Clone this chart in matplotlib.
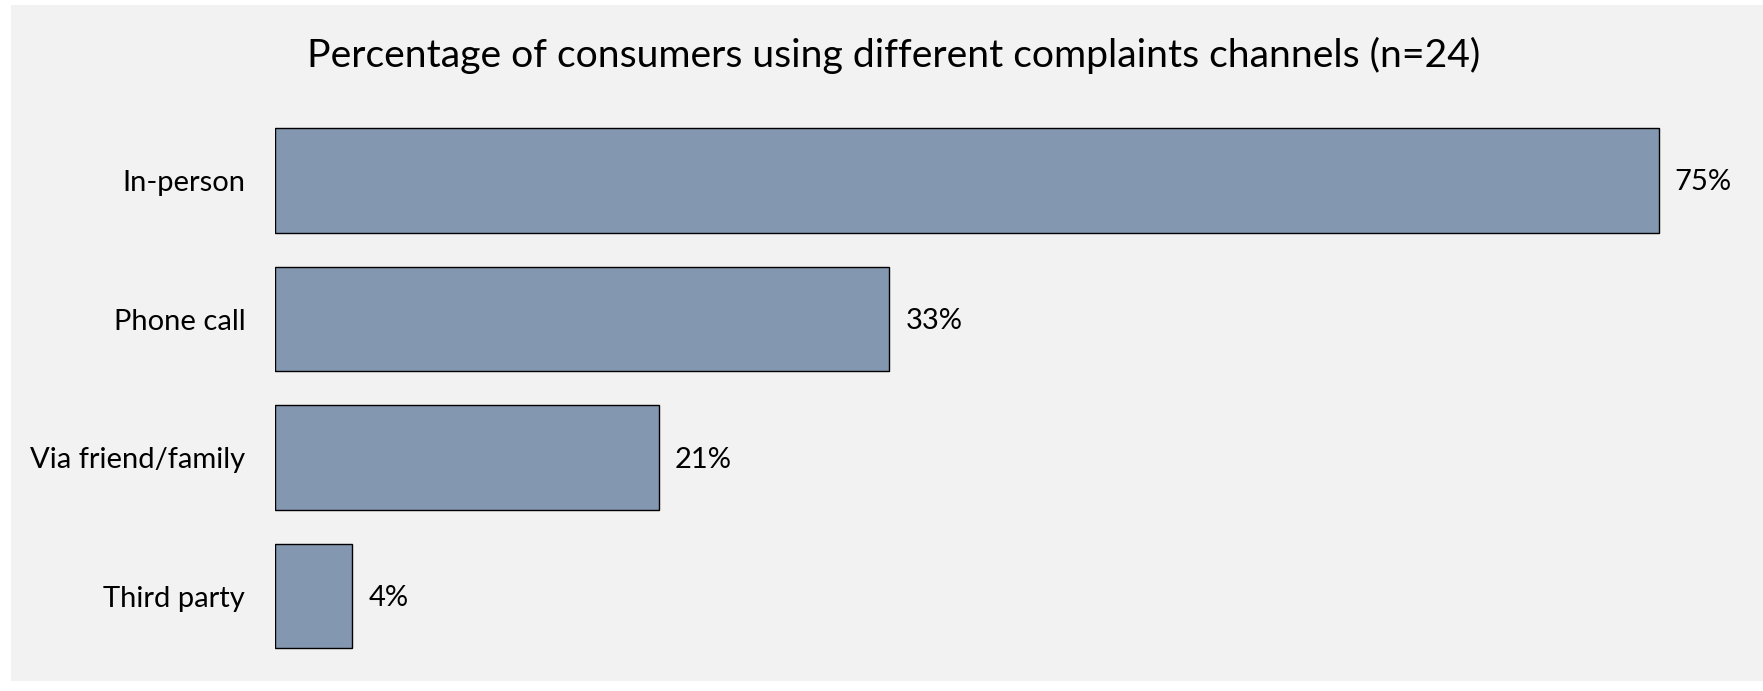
#!/usr/bin/env python3
"""Horizontal bar chart: complaint channels used by consumers (n=24)."""

import matplotlib

matplotlib.use("Agg")
import matplotlib.pyplot as plt
from matplotlib.patches import Rectangle

plt.rcParams["font.family"] = ["Lato", "DejaVu Sans"]

CHANNELS = ["In-person", "Phone call", "Via friend/family", "Third party"]
SHARES = [75.0, 33.3, 20.8, 4.2]
SHARE_LABELS = ["75%", "33%", "21%", "4%"]
TITLE = "Percentage of consumers using different complaints channels (n=24)"

BAR_COLOR = "#8497B0"
PANEL_COLOR = "#F2F2F2"

W, H = 1763, 691
fig = plt.figure(figsize=(W / 100, H / 100), dpi=100)
fig.patch.set_facecolor("white")

# grey chart area, leaving a thin white strip on the left, top and bottom
fig.add_artist(Rectangle((11 / W, 10 / H), 1 - 11 / W, 676 / H,
                         transform=fig.transFigure, facecolor=PANEL_COLOR,
                         edgecolor="none", zorder=-10))

ax = fig.add_axes([275 / W, 25.75 / H, 1476 / W, 554 / H])
ax.set_facecolor("none")

y = list(range(len(CHANNELS)))
ax.barh(y, SHARES, height=0.758, color=BAR_COLOR, edgecolor="black", linewidth=1.0)
for yi, val, lab in zip(y, SHARES, SHARE_LABELS):
    ax.annotate(lab, (val, yi), xytext=(16, -2), textcoords="offset pixels",
                va="center", ha="left", fontsize=21, color="black")

ax.set_xlim(0, 80)
ax.set_ylim(len(CHANNELS) - 0.5, -0.5)
ax.set_yticks(y)
ax.set_yticklabels(CHANNELS, fontsize=21)
ax.tick_params(axis="y", length=0, pad=21.5)
ax.set_xticks([])
for spine in ax.spines.values():
    spine.set_visible(False)

fig.text(0.5 + 12 / W, 1 - 55 / H, TITLE, ha="center", va="center", fontsize=28.2)

fig.savefig("out.png", dpi=100)
